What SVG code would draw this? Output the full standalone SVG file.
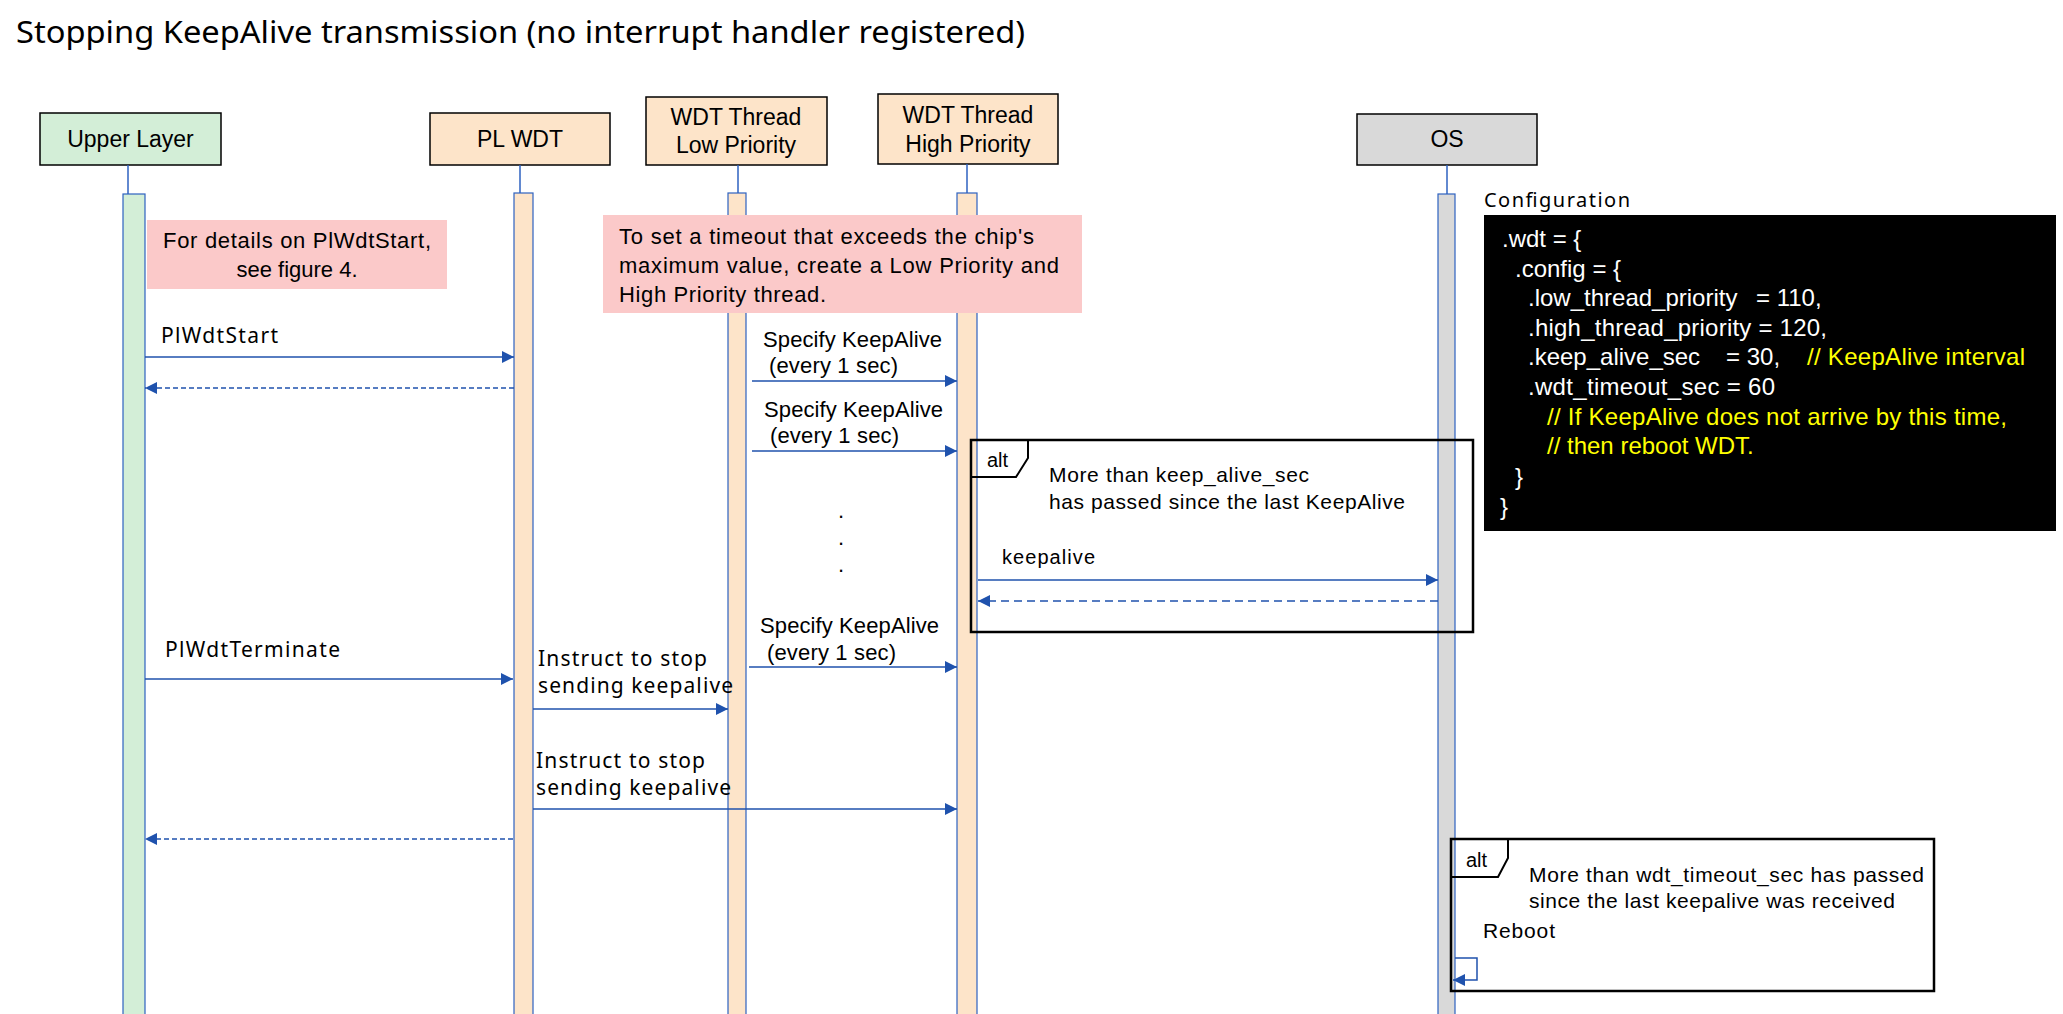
<svg xmlns="http://www.w3.org/2000/svg" width="2063" height="1014" viewBox="0 0 2063 1014">
<style>
.a{font-family:"Liberation Sans",Arial,sans-serif;fill:#000}
.s{font-family:"Noto Sans","Open Sans",sans-serif;fill:#000}
.box{stroke:#000;stroke-width:1.5}
.lf{stroke:#2e62c0;stroke-width:1.5;fill:none}
.bar{stroke:#2e62c0;stroke-width:1.2}
.msg{stroke:#1f52ad;stroke-width:1.5;fill:none}
.ret{stroke:#1f52ad;stroke-width:1.5;fill:none;stroke-dasharray:5,3}
.frame{fill:none;stroke:#000;stroke-width:2.5}
.w{font-family:"Liberation Sans",Arial,sans-serif;fill:#fff;font-size:24px}
.y{font-family:"Liberation Sans",Arial,sans-serif;fill:#ffff00;font-size:24px}
</style>
<defs>
<marker id="ah" viewBox="0 0 12 12" refX="12" refY="6" markerWidth="12" markerHeight="12" orient="auto" markerUnits="userSpaceOnUse"><path d="M0,0 L12,6 L0,12 z" fill="#1f52ad"/></marker>
</defs>
<rect width="2063" height="1014" fill="#fff"/>
<text class="s" x="16" y="43" font-size="30" textLength="1009" lengthAdjust="spacingAndGlyphs">Stopping KeepAlive transmission (no interrupt handler registered)</text>

<g id="upper-layer">
<rect class="box" x="40" y="113" width="181" height="52" fill="#d3eed7"/>
<text class="a" x="130.5" y="147" font-size="23" text-anchor="middle">Upper Layer</text>
<line class="lf" x1="128" y1="165" x2="128" y2="194"/>
<rect class="bar" x="123" y="194" width="22" height="830" fill="#d3eed7"/>
</g>
<g id="pl-wdt">
<rect class="box" x="430" y="113" width="180" height="52" fill="#fde4c9"/>
<text class="a" x="520" y="147" font-size="23" text-anchor="middle">PL WDT</text>
<line class="lf" x1="520" y1="165" x2="520" y2="193"/>
<rect class="bar" x="514" y="193" width="19" height="830" fill="#fde4c9"/>
</g>
<g id="wdt-low">
<rect class="box" x="646" y="97" width="181" height="68" fill="#fde4c9"/>
<text class="a" x="736" y="125" font-size="23" text-anchor="middle">WDT Thread</text>
<text class="a" x="736" y="153" font-size="23" text-anchor="middle">Low Priority</text>
<line class="lf" x1="738" y1="165" x2="738" y2="193"/>
<rect class="bar" x="728" y="193" width="18" height="830" fill="#fde4c9"/>
</g>
<g id="wdt-high">
<rect class="box" x="878" y="94" width="180" height="70" fill="#fde4c9"/>
<text class="a" x="968" y="123" font-size="23" text-anchor="middle">WDT Thread</text>
<text class="a" x="968" y="152" font-size="23" text-anchor="middle">High Priority</text>
<line class="lf" x1="967" y1="164" x2="967" y2="193"/>
<rect class="bar" x="957" y="193" width="20" height="830" fill="#fde4c9"/>
</g>
<g id="os">
<rect class="box" x="1357" y="114" width="180" height="51" fill="#d9d9d9"/>
<text class="a" x="1447" y="147" font-size="23" text-anchor="middle">OS</text>
<line class="lf" x1="1447" y1="165" x2="1447" y2="194"/>
<rect class="bar" x="1438" y="194" width="17" height="830" fill="#d9d9d9"/>
</g>

<g id="note1">
<rect x="147" y="220" width="300" height="69" fill="#fbc9c9"/>
<text class="a" x="297" y="248" font-size="22" text-anchor="middle" textLength="268">For details on PlWdtStart,</text>
<text class="a" x="297" y="277" font-size="22" text-anchor="middle">see figure 4.</text>
</g>
<g id="note2">
<rect x="603" y="215" width="479" height="98" fill="#fbc9c9"/>
<text class="a" x="619" y="244" font-size="22" textLength="415">To set a timeout that exceeds the chip's</text>
<text class="a" x="619" y="273" font-size="22" textLength="440">maximum value, create a Low Priority and</text>
<text class="a" x="619" y="302" font-size="22" textLength="207">High Priority thread.</text>
</g>

<g id="alt1">
<rect class="frame" x="971" y="440" width="502" height="192"/>
<path d="M971,477 L1016,477 L1028,458 L1028,440" fill="none" stroke="#000" stroke-width="2"/>
<text class="a" x="987" y="467" font-size="20">alt</text>
<text class="a" x="1049" y="482" font-size="21" textLength="260">More than keep_alive_sec</text>
<text class="a" x="1049" y="509" font-size="21" textLength="356">has passed since the last KeepAlive</text>
</g>
<g id="alt2">
<rect class="frame" x="1451" y="839" width="483" height="152"/>
<path d="M1451,877 L1498,877 L1508,858 L1508,839" fill="none" stroke="#000" stroke-width="2"/>
<text class="a" x="1466" y="867" font-size="20">alt</text>
<text class="a" x="1529" y="882" font-size="21" textLength="395">More than wdt_timeout_sec has passed</text>
<text class="a" x="1529" y="908" font-size="21" textLength="366">since the last keepalive was received</text>
<text class="a" x="1483" y="938" font-size="21" textLength="72">Reboot</text>
</g>

<g id="config">
<text class="s" x="1484" y="207" font-size="20" textLength="146">Configuration</text>
<rect x="1484" y="215" width="572" height="316" fill="#000"/>
<text class="w" x="1502" y="247">.wdt = {</text>
<text class="w" x="1515" y="277">.config = {</text>
<text class="w" x="1528" y="306">.low_thread_priority</text>
<text class="w" x="1756" y="306">= 110,</text>
<text class="w" x="1528" y="336" textLength="299">.high_thread_priority = 120,</text>
<text class="w" x="1528" y="365">.keep_alive_sec</text>
<text class="w" x="1726" y="365">= 30,</text>
<text class="y" x="1807" y="365" textLength="218">// KeepAlive interval</text>
<text class="w" x="1528" y="395" textLength="247">.wdt_timeout_sec = 60</text>
<text class="y" x="1547" y="425" textLength="460">// If KeepAlive does not arrive by this time,</text>
<text class="y" x="1547" y="454">// then reboot WDT.</text>
<text class="w" x="1515" y="485">}</text>
<text class="w" x="1500" y="515">}</text>
</g>

<g id="connectors">
<line class="msg" x1="145" y1="357" x2="514" y2="357" marker-end="url(#ah)"/>
<line class="ret" x1="514" y1="388" x2="145" y2="388" marker-end="url(#ah)"/>
<line class="msg" x1="752" y1="381" x2="957" y2="381" marker-end="url(#ah)"/>
<line class="msg" x1="752" y1="451" x2="957" y2="451" marker-end="url(#ah)"/>
<line class="msg" x1="978" y1="580" x2="1438" y2="580" marker-end="url(#ah)"/>
<line class="ret" x1="1438" y1="601" x2="978" y2="601" marker-end="url(#ah)" style="stroke-dasharray:8,5"/>
<line class="msg" x1="145" y1="679" x2="513" y2="679" marker-end="url(#ah)"/>
<line class="msg" x1="749" y1="667" x2="957" y2="667" marker-end="url(#ah)"/>
<line class="msg" x1="533" y1="709" x2="728" y2="709" marker-end="url(#ah)"/>
<line class="msg" x1="533" y1="809" x2="957" y2="809" marker-end="url(#ah)"/>
<line class="ret" x1="513" y1="839" x2="145" y2="839" marker-end="url(#ah)"/>
<path class="msg" d="M1455,958 L1477,958 L1477,980 L1453,980" marker-end="url(#ah)"/>
</g>

<g id="labels">
<text class="s" x="161" y="343" font-size="21" textLength="117">PlWdtStart</text>
<text class="a" x="763" y="347" font-size="22" textLength="179">Specify KeepAlive</text>
<text class="a" x="769" y="373" font-size="22" textLength="129">(every 1 sec)</text>
<text class="a" x="764" y="417" font-size="22" textLength="179">Specify KeepAlive</text>
<text class="a" x="770" y="443" font-size="22" textLength="129">(every 1 sec)</text>
<text class="a" x="838" y="518" font-size="22">.</text>
<text class="a" x="838" y="545" font-size="22">.</text>
<text class="a" x="838" y="572" font-size="22">.</text>
<text class="a" x="1002" y="564" font-size="20" textLength="93">keepalive</text>
<text class="s" x="165" y="657" font-size="21" textLength="175">PlWdtTerminate</text>
<text class="a" x="760" y="633" font-size="22" textLength="179">Specify KeepAlive</text>
<text class="a" x="767" y="660" font-size="22" textLength="129">(every 1 sec)</text>
<text class="s" x="538" y="666" font-size="21" textLength="169">Instruct to stop</text>
<text class="s" x="538" y="693" font-size="21" textLength="195">sending keepalive</text>
<text class="s" x="536" y="768" font-size="21" textLength="169">Instruct to stop</text>
<text class="s" x="536" y="795" font-size="21" textLength="195">sending keepalive</text>
</g>
</svg>
